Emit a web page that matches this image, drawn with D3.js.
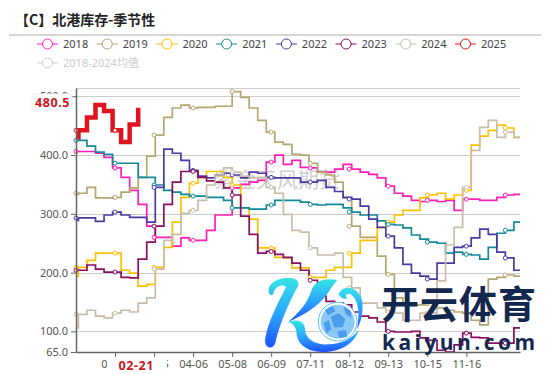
<!DOCTYPE html>
<html>
<head>
<meta charset="utf-8">
<script src="https://cdn.jsdelivr.net/npm/d3@7"></script>
<style>
body { margin: 0; background: #fff; }
svg { display: block; font-family: "Noto Sans", "Noto Sans CJK SC", sans-serif; }
</style>
</head>
<body>
<svg id="chart" width="550" height="374"></svg>
<script>
var legend_names = ["2018", "2019", "2020", "2021", "2022", "2023", "2024", "2025"],
    avg_name = "2018-2024均值",
    line_colors = ["#ff1fb4", "#b5a670", "#ffc000", "#138a99", "#4b3aa5", "#8a0f63", "#c9bdaa", "#e0141e"];

var tick_days = [32, 64, 96, 128, 160, 192, 224, 256, 288, 320],
    tick_labels = ["02-02", "03-05", "04-06", "05-08", "06-09", "07-11", "08-12", "09-13", "10-15", "11-16"],
    symbol_days = [0, 32, 64, 96, 128, 160, 192, 224, 256, 288, 320, 352],
    y_ticks = [65, 100, 200, 300, 400, 500];

// weekly stock, first entry is the first trading day of the year
var data2018 = [406,406,406,403,396,378,362,340,316,279,260,260,245,259,255,255,272,298,298,344,350,354,357,388,400,384,391,379,378,372,371,376,384,376,371,367,361,347,335,330,323,321,323,321,323,306,325,325,323,323,328,332,333],
    data2019 = [333,335,345,327,327,328,337,344,362,398,434,464,480,485,480,481,481,483,483,508,498,480,459,439,422,418,401,400,386,371,366,354,327,279,260,260,228,197,157,145,145,145,148,140,136,133,131,119,111,189,192,196,194],
    data2020 = [194,209,221,233,233,233,204,199,177,180,209,243,286,328,352,362,372,372,362,349,310,291,242,242,226,225,208,208,192,192,204,209,209,233,255,255,277,286,298,306,306,327,332,335,325,332,340,417,432,442,451,446,430],
    data2021 = [425,425,415,405,401,386,386,386,362,362,349,340,337,333,330,330,328,328,323,310,310,308,308,315,323,323,323,320,316,315,316,316,310,303,298,298,288,282,281,276,264,257,252,250,233,235,231,230,223,243,267,272,286],
    data2022 = [289,293,293,287,298,303,298,294,294,286,345,410,403,391,374,364,361,366,369,366,361,371,369,362,361,361,361,354,354,357,345,338,328,325,313,291,277,262,242,214,199,194,189,216,216,243,245,259,274,265,235,225,204],
    data2023 = [204,204,213,206,201,201,192,191,223,252,279,316,354,372,372,362,356,354,344,332,296,265,233,236,231,226,216,204,187,160,151,148,145,133,126,123,116,100,99,99,100,89,85,68,65,77,97,90,89,80,80,80,106],
    data2024 = [106,129,136,126,123,131,136,133,148,157,206,255,265,301,306,323,349,366,378,371,364,361,362,345,335,299,272,269,242,230,230,233,192,174,148,148,140,133,131,119,119,131,131,186,247,277,345,408,447,459,430,439,430],
    data2025 = [430,442,464,485,475,442,422,452,480.5];

var all_series = [data2018, data2019, data2020, data2021, data2022, data2023, data2024, data2025];

var last_day_label = "02-21",
    last_value = 480.5;

var margin = {top: 88, right: 30, bottom: 22, left: 76},
    svg_width = 550,
    svg_height = 374;

var svg = d3.select("#chart");

var x = d3.scaleLinear().domain([0, 364]).range([margin.left, svg_width - margin.right]),
    y = d3.scaleLinear().domain([65, 514]).range([svg_height - margin.bottom, margin.top]);

// title
svg.append("text")
    .text("【C】北港库存-季节性")
    .attr('x', 15)
    .attr('y', 25)
    .style('font-family', '"Noto Sans CJK SC"')
    .style('font-weight', "bold")
    .style('font-size', "14px")
    .style('fill', "#222");

svg.append("line")
    .attr('x1', 9).attr('x2', 541)
    .attr('y1', 35).attr('y2', 35)
    .style('stroke', "#aaa");

// legend
var legendX = d3.scalePoint().domain(legend_names).range([37, 455]);

var legendItem = svg.selectAll(".legend")
    .data(legend_names)
    .enter()
    .append("g")
    .attr('class', "legend")
    .attr('transform', function(d){ return "translate(" + legendX(d) + ",44)"; });

legendItem.append("line")
    .attr('x2', 21)
    .style('stroke', function(d,i){ return line_colors[i]; })
    .style('stroke-width', "1px");

legendItem.append("circle")
    .attr('cx', 10.5)
    .attr('r', 5)
    .style('fill', "#fff")
    .style('stroke', function(d,i){ return line_colors[i]; });

legendItem.append("text")
    .text(function(d){ return d; })
    .attr('x', 26)
    .attr('y', 4)
    .style('font-size', "11px")
    .style('fill', "#444");

var avgItem = svg.append("g").attr('transform', "translate(37,63)");

avgItem.append("line").attr('x2', 21).style('stroke', "#ccc");
avgItem.append("circle")
    .attr('cx', 10.5)
    .attr('r', 5)
    .style('fill', "#fff")
    .style('stroke', "#ccc");
avgItem.append("text")
    .text(avg_name)
    .attr('x', 26)
    .attr('y', 4)
    .style('font-size', "11px")
    .style('fill', "#ccc");

// grid
var gridValues = y_ticks.slice(1).concat([514]);

svg.selectAll(".grid")
    .data(gridValues)
    .enter()
    .append("line")
    .attr('class', "grid")
    .attr('x1', x(0))
    .attr('x2', x(364))
    .attr('y1', function(d){ return Math.round(y(d)) + 0.5; })
    .attr('y2', function(d){ return Math.round(y(d)) + 0.5; })
    .style('stroke', "#ccc");

// faint source mark behind the lines
svg.append("text")
    .text("紫金天风期货")
    .attr('x', 214)
    .attr('y', 187)
    .style('font-family', '"Noto Sans CJK SC"')
    .style('font-size', "21px")
    .style('fill', "#aaa")
    .style('opacity', "0.55");

// series lines, one value per step
function stepDay(i){ return i === 0 ? 0 : 2 + (i - 1) * 7; }

var lineGen = d3.line()
    .x(function(d){ return x(d.day); })
    .y(function(d){ return y(d.value); })
    .curve(d3.curveStepAfter);

function toPoints(values){
    var points = values.map(function(v,i){ return {day: stepDay(i), value: v}; });
    // full years run on to the end of the axis
    if(values.length > 20){
        points.push({day: 364, value: values[values.length - 1]});
    }
    return points;
}

function valueAt(values, day){
    var i = day === 0 ? 0 : Math.floor(day / 7) + 1;
    if(day + 2 >= stepDay(i + 1)) i = i + 1;
    return values[Math.min(i, values.length - 1)];
}

var lineCont = svg.append("g");

lineCont.selectAll("path")
    .data(all_series)
    .enter()
    .append("path")
    .attr('d', function(d){ return lineGen(toPoints(d)); })
    .style('fill', "none")
    .style('stroke', function(d,i){ return line_colors[i]; })
    .style('stroke-width', function(d,i){ return i === 7 ? "4.5px" : "1.7px"; });

all_series.forEach(function(values, s){
    var days = symbol_days.filter(function(d){ return d <= stepDay(values.length - 1); });
    lineCont.selectAll(".sym" + s)
        .data(days)
        .enter()
        .append("circle")
        .attr('class', "sym" + s)
        .attr('cx', function(d){ return x(d); })
        .attr('cy', function(d){ return y(valueAt(values, d)); })
        .attr('r', 2)
        .style('fill', "#fff")
        .style('stroke', line_colors[s])
        .style('stroke-width', "1px");
});

// axes
var xAxis = svg.append("g")
    .attr('transform', "translate(0," + (svg_height - margin.bottom) + ")")
    .call(d3.axisBottom(x)
        .tickValues(tick_days)
        .tickFormat(function(d,i){ return tick_labels[i]; })
        .tickSize(5)
        .tickSizeOuter(0));

var yAxis = svg.append("g")
    .attr('transform', "translate(" + margin.left + ",0)")
    .call(d3.axisLeft(y)
        .tickValues(y_ticks)
        .tickFormat(d3.format(".1f"))
        .tickSize(5)
        .tickSizeOuter(0));

[xAxis, yAxis].forEach(function(axis){
    axis.selectAll("path, line").style('stroke', "#666");
    axis.selectAll("text")
        .style('font-family', '"Noto Sans", sans-serif')
        .style('font-size', "11px")
        .style('fill', "#555");
});
yAxis.select("path").style('stroke-width', "1.5px");
xAxis.select("path").style('stroke-width', "1.5px");

// pointer labels for the last 2025 point
svg.append("rect")
    .attr('x', 107)
    .attr('y', 357)
    .attr('width', 60)
    .attr('height', 16)
    .style('fill', "#fff");

svg.append("text")
    .text(last_day_label)
    .attr('x', x(stepDay(8)) - 2)
    .attr('y', 370)
    .attr('text-anchor', "middle")
    .style('font-size', "12.5px")
    .style('letter-spacing', "0.6px")
    .style('font-weight', "bold")
    .style('fill', "#d0121b");

svg.append("rect")
    .attr('x', 32)
    .attr('y', 94)
    .attr('width', 40)
    .attr('height', 16)
    .attr('rx', 3)
    .style('fill', "#fff")
    .style('stroke', "#eee");

svg.append("text")
    .text(d3.format(".1f")(last_value))
    .attr('x', 52.5)
    .attr('y', y(last_value) - 0.5)
    .attr('text-anchor', "middle")
    .style('font-size', "12.5px")
    .style('letter-spacing', "0.6px")
    .style('font-weight', "bold")
    .style('fill', "#d0121b");

// site logo stamped over the picture
var defs = svg.append("defs");
var grad = defs.append("linearGradient")
    .attr('id', "logoGrad")
    .attr('x1', 0).attr('y1', 0).attr('x2', 0).attr('y2', 1);
grad.append("stop").attr('offset', "0%").attr('stop-color', "#34e4e6");
grad.append("stop").attr('offset', "55%").attr('stop-color', "#2aa0ff");
grad.append("stop").attr('offset', "100%").attr('stop-color', "#1f52ff");

var logo = svg.append("g").attr('transform', "translate(260,270) scale(0.3333)");

var logo_paths = [
    "M28,72 C18,45 48,24 82,24 C106,22 118,30 115,48 C98,75 62,150 47,215 C42,238 18,238 15,215 C20,160 58,92 78,52 C70,40 42,50 40,72 C38,76 30,76 28,72 Z",
    "M232,30 C198,24 166,30 155,60 C142,100 120,125 84,156 C130,136 176,110 206,66 C214,52 224,40 232,30 Z",
    "M84,157 C122,142 136,160 136,186 C140,206 165,226 206,223 C246,222 276,205 296,180 C286,216 246,246 190,246 C146,248 110,222 110,190 C108,172 100,160 84,157 Z",
    "M236,72 C250,40 296,50 306,90 C312,125 302,160 291,176 C300,130 296,96 276,76 C266,66 250,74 262,86 C248,88 240,82 236,72 Z"
];

logo.selectAll("path")
    .data(logo_paths)
    .enter()
    .append("path")
    .attr('d', function(d){ return d; })
    .style('fill', "url(#logoGrad)");

logo.append("circle")
    .attr('cx', 233).attr('cy', 155).attr('r', 58)
    .style('fill', "#fff")
    .style('stroke', "#5cc0f5")
    .style('stroke-width', "3px");

logo.append("circle")
    .attr('cx', 233).attr('cy', 155).attr('r', 51)
    .style('fill', "#8ac8f6");

var ball_patches = [
    "M212,140 L236,130 L256,148 L248,172 L222,172 Z",
    "M195,120 L218,108 L226,124 L204,136 Z",
    "M250,110 L272,122 L274,144 L258,132 Z",
    "M190,160 L206,150 L214,178 L200,190 Z",
    "M232,184 L258,180 L262,200 L238,204 Z"
];

logo.selectAll(".patch")
    .data(ball_patches)
    .enter()
    .append("path")
    .attr('class', "patch")
    .attr('d', function(d){ return d; })
    .style('fill', "#4a9cec");

svg.append("text")
    .text("开云体育")
    .attr('x', 381)
    .attr('y', 318)
    .attr('textLength', 155)
    .style('font-family', '"Noto Sans CJK SC"')
    .style('font-weight', "bold")
    .style('font-size', "38px")
    .style('fill', "#14284f");

svg.append("text")
    .text("kaiyun.com")
    .attr('x', 382)
    .attr('y', 350)
    .attr('textLength', 153)
    .style('font-family', '"Open Sans", sans-serif')
    .style('font-weight', "bold")
    .style('font-size', "21px")
    .style('fill', "#14284f");
</script>
</body>
</html>
